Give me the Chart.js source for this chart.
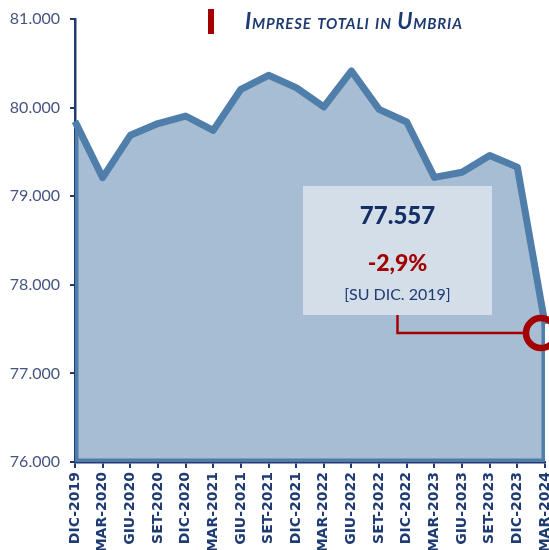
<!DOCTYPE html>
<html>
<head>
<meta charset="utf-8">
<script src="https://cdn.jsdelivr.net/npm/chart.js@4/dist/chart.umd.min.js"></script>
<style>
  body { margin: 0; background: #ffffff; }
  #wrap { width: 549px; height: 550px; }
</style>
</head>
<body>
<div id="wrap"><canvas id="chart"></canvas></div>
<script>
// trimestri
var labels = ['DIC-2019', 'MAR-2020', 'GIU-2020', 'SET-2020', 'DIC-2020', 'MAR-2021',
              'GIU-2021', 'SET-2021', 'DIC-2021', 'MAR-2022', 'GIU-2022', 'SET-2022',
              'DIC-2022', 'MAR-2023', 'GIU-2023', 'SET-2023', 'DIC-2023', 'MAR-2024'];
// imprese totali (l'ultimo è il dato esatto)
var imprese = [79845, 79210, 79687, 79820, 79905, 79743,
               80207, 80365, 80226, 80007, 80414, 79980,
               79837, 79212, 79271, 79460, 79328, 77557];
var yTicks = [76000, 77000, 78000, 79000, 80000, 81000];

var titolo = ['Imprese totali in Umbria'];
var boxValore = '77.557';
var boxVar = '-2,9%';
var boxNota = '[SU DIC. 2019]';

var NAVY = '#1f3b73';
var RED = '#a50000';
var LINE = '#4f7eaa';
var FILL = '#a7bdd3';

function fmt(v){
    return v.toLocaleString('it-IT', {minimumFractionDigits: 0, useGrouping: true}).replace(/\s/g, '.');
}

var extras = {
    id: 'extras',
    afterDatasetsDraw: function(chart){
        var ctx = chart.ctx;
        var area = chart.chartArea;
        var x = chart.scales.x;
        var y = chart.scales.y;
        var last = imprese.length - 1;

        // bordo del poligono (sinistra, sotto, destra)
        ctx.save();
        ctx.beginPath();
        ctx.rect(area.left, area.top, area.right - area.left, area.bottom - area.top);
        ctx.clip();
        ctx.strokeStyle = LINE;
        ctx.lineWidth = 7;
        ctx.lineJoin = 'round';
        ctx.beginPath();
        ctx.moveTo(x.getPixelForValue(0), y.getPixelForValue(imprese[0]));
        ctx.lineTo(x.getPixelForValue(0), area.bottom);
        ctx.lineTo(x.getPixelForValue(last), area.bottom);
        ctx.lineTo(x.getPixelForValue(last), y.getPixelForValue(imprese[last]));
        ctx.stroke();
        ctx.restore();

        // riquadro
        ctx.save();
        var bx = area.left + 228, by = area.top + 167, bw = 189, bh = 129;
        ctx.fillStyle = 'rgba(255,255,255,0.5)';
        ctx.fillRect(bx, by, bw, bh);
        var cx = bx + bw / 2;
        ctx.textAlign = 'center';
        ctx.textBaseline = 'alphabetic';
        ctx.fillStyle = '#142f66';
        ctx.font = '900 24px Lato';
        ctx.fillText(boxValore, cx, by + 38);
        ctx.fillStyle = RED;
        ctx.font = '900 23px Lato';
        ctx.fillText(boxVar, cx, by + 85);
        ctx.fillStyle = NAVY;
        ctx.font = '16px Lato';
        ctx.fillText(boxNota, cx, by + 114);

        // connettore e cerchio sull'ultimo valore
        var px = x.getPixelForValue(last) - 4;
        var py = y.getPixelForValue(imprese[last]) + 9;
        ctx.strokeStyle = RED;
        ctx.lineWidth = 2.5;
        ctx.beginPath();
        ctx.moveTo(cx, by + bh);
        ctx.lineTo(cx, py);
        ctx.lineTo(px - 15, py);
        ctx.stroke();
        ctx.lineWidth = 6.5;
        ctx.beginPath();
        ctx.arc(px, py, 15, 0, Math.PI * 2);
        ctx.stroke();
        ctx.restore();

        // titolo
        ctx.save();
        ctx.fillStyle = RED;
        ctx.fillRect(208, 9, 6, 25);
        ctx.fillStyle = NAVY;
        ctx.font = 'italic small-caps bold 22px Lato';
        ctx.letterSpacing = '0.8px';
        ctx.textAlign = 'left';
        ctx.textBaseline = 'alphabetic';
        ctx.fillText(titolo[0], 245, 29);
        ctx.restore();
    }
};

function initGraph(){
    var data = {
        labels: labels,
        datasets: [{
            label: 'Imprese totali',
            data: imprese,
            fill: 'origin',
            backgroundColor: FILL,
            borderColor: LINE,
            borderWidth: 7,
            borderJoinStyle: 'round',
            tension: 0,
            pointRadius: 0
        }]
    };

    var config = {
        type: 'line',
        data: data,
        options: {
            responsive: true,
            maintainAspectRatio: false,
            animation: false,
            layout: { padding: { top: 19, right: 4, left: 0, bottom: 0 } },
            plugins: {
                legend: { display: false },
                tooltip: { enabled: false }
            },
            scales: {
                x: {
                    z: 1,
                    offset: false,
                    grid: { display: true, drawOnChartArea: false, drawTicks: true, tickLength: 6, color: NAVY, lineWidth: 2, offset: false },
                    border: { display: true, color: NAVY, width: 2.5 },
                    ticks: {
                        autoSkip: false,
                        minRotation: 90,
                        maxRotation: 90,
                        padding: 4,
                        color: NAVY,
                        font: { family: 'DejaVu Sans', weight: 'bold', size: 14 }
                    },
                    afterFit: function(s){ s.height = 88; s.paddingLeft = 0; s.paddingRight = 0; }
                },
                y: {
                    z: 1,
                    min: 76000,
                    max: 81000,
                    afterBuildTicks: function(s){ s.ticks = yTicks.map(function(v){ return {value: v}; }); },
                    grid: { display: true, drawOnChartArea: false, drawTicks: true, tickLength: 5, color: NAVY, lineWidth: 2 },
                    border: { display: true, color: NAVY, width: 2.5 },
                    ticks: {
                        padding: 10,
                        color: '#47557e',
                        font: { family: 'Lato', size: 16 },
                        callback: function(v){ return fmt(v); }
                    },
                    afterFit: function(s){ s.width = 75; s.paddingTop = 0; s.paddingBottom = 0; }
                }
            }
        },
        plugins: [extras]
    };

    var ctx = document.getElementById('chart').getContext('2d');
    var myChart = new Chart(ctx, config);
}
initGraph();
</script>
</body>
</html>
